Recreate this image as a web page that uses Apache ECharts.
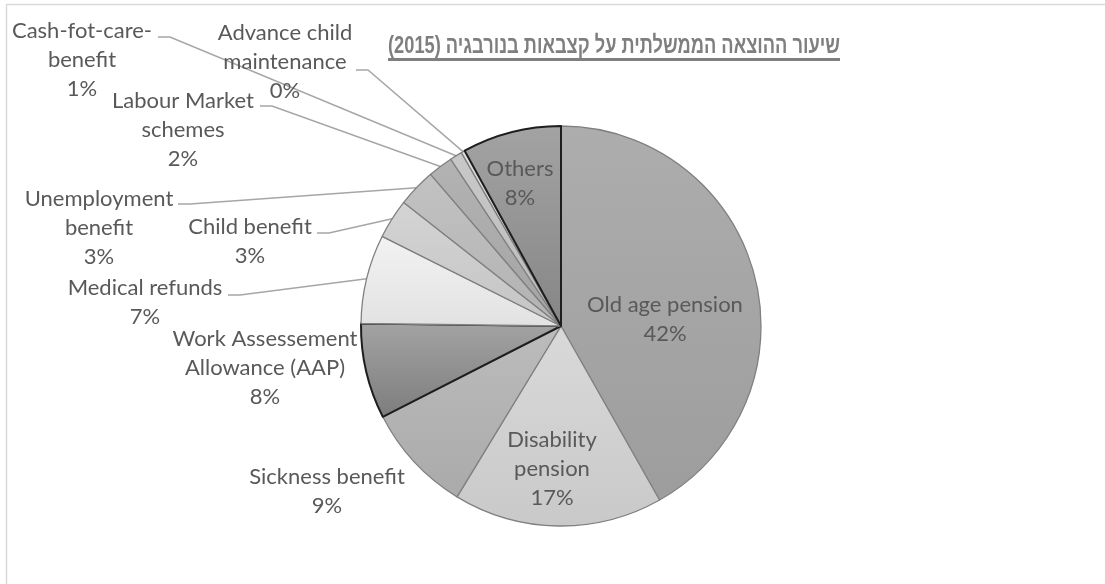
<!DOCTYPE html>
<html><head><meta charset="utf-8">
<script src="https://cdn.jsdelivr.net/npm/echarts@6/dist/echarts.min.js"></script>
<style>html,body{margin:0;padding:0;background:#fff}#c{width:1105px;height:584px}</style>
</head><body><div id="c"></div>
<script>
// ---- data ----
const categories = ['Old age pension', 'Disability pension', 'Sickness benefit', 'Work Assessement Allowance (AAP)', 'Medical refunds', 'Child benefit', 'Unemployment benefit', 'Labour Market schemes', 'Cash-fot-care-benefit', 'Advance child maintenance', 'Others'];
const shares = [41.8, 16.9, 8.8, 7.7, 7.2, 3.2, 3.1, 2.0, 1.0, 0.3, 8.0];
const titleText = 'שיעור ההוצאה הממשלתית על קצבאות בנורבגיה (2015)';

// ---- presentation ----
const wrapAt = {
  'Disability pension': ['Disability', 'pension'],
  'Work Assessement Allowance (AAP)': ['Work Assessement', 'Allowance (AAP)'],
  'Unemployment benefit': ['Unemployment', 'benefit'],
  'Labour Market schemes': ['Labour Market', 'schemes'],
  'Cash-fot-care-benefit': ['Cash-fot-care-', 'benefit'],
  'Advance child maintenance': ['Advance child', 'maintenance']
};
const sliceShades = [
  ['#adadad', '#9d9d9d'], ['#d9d9d9', '#c9c9c9'], ['#bcbcbc', '#aaaaaa'], ['#a3a3a3', '#7d7d7d'],
  ['#f2f2f2', '#e2e2e2'], ['#d4d4d4', '#c4c4c4'], ['#c2c2c2', '#b2b2b2'], ['#b3b3b3', '#a3a3a3'],
  ['#c8c8c8', '#bcbcbc'], ['#dedede', '#d0d0d0'], ['#a3a3a3', '#868686']
];
const darkEdge = [false, false, false, true, false, false, false, false, false, false, true];
const insideLabel = [true, true, false, false, false, false, false, false, false, false, true];
const showLeader = [false, false, false, false, true, true, true, true, true, true, false];
// [centerX, centerY, leaderAnchorX, leaderAnchorY]
const labelBoxes = [
  [665, 319], [552, 469], [327, 491], [265, 368],
  [145, 302, 228, 295], [250, 241, 317, 233], [99, 228, 178, 204], [183, 130, 260, 106],
  [82, 60, 158, 37], [285, 62, 356, 70], [520, 183]
];

const FONT = 'Lato';
const chart = echarts.init(document.getElementById('c'));

const titleFont = 'bold 24px "Liberation Sans", "DejaVu Sans", sans-serif';
const cvs = document.createElement('canvas').getContext('2d');
cvs.font = titleFont;
const titleStr = '\u202B' + titleText + '\u202C';
const tw = cvs.measureText(titleStr).width;
const titleLeft = 388, titleRight = 840;
const titleScale = (titleRight - titleLeft) / tw;

const data = categories.map((name, i) => ({
  name: name,
  value: shares[i],
  itemStyle: {
    color: new echarts.graphic.LinearGradient(0, 0, 0, 1, [
      { offset: 0, color: sliceShades[i][0] }, { offset: 1, color: sliceShades[i][1] }
    ]),
    borderColor: darkEdge[i] ? '#1e1e1e' : '#808080',
    borderWidth: darkEdge[i] ? 2 : 1.3
  },
  label: { position: insideLabel[i] ? 'inside' : 'outside' },
  labelLine: { show: showLeader[i] }
}));

chart.setOption({
  animation: false,
  graphic: [
    { type: 'rect', shape: { x: 6.5, y: 4.5, width: 1300, height: 800 }, style: { fill: 'none', stroke: '#d9d9d9', lineWidth: 1.5 }, silent: true },
    { type: 'text', x: titleLeft, y: 46, scaleX: titleScale, silent: true,
      style: { text: titleStr, font: titleFont, fill: '#7f7f7f', align: 'left', verticalAlign: 'middle' } },
    { type: 'rect', shape: { x: titleLeft, y: 58, width: titleRight - titleLeft, height: 3 }, style: { fill: '#7f7f7f' }, silent: true }
  ],
  series: [{
    type: 'pie',
    center: [561, 326],
    radius: 200,
    startAngle: 90,
    clockwise: true,
    avoidLabelOverlap: false,
    percentPrecision: 0,
    data: data,
    label: {
      show: true,
      fontFamily: FONT,
      fontSize: 22,
      lineHeight: 29,
      color: '#595959',
      align: 'center',
      formatter: p => (wrapAt[p.name] || [p.name]).join('\n') + '\n' + p.percent + '%'
    },
    labelLine: { lineStyle: { color: '#a6a6a6', width: 1.5 }, length: 10, length2: 10 },
    labelLayout: function (p) {
      const b = labelBoxes[p.dataIndex];
      const out = { x: b[0], y: b[1], align: 'center', verticalAlign: 'middle' };
      if (b.length > 2 && p.labelLinePoints) {
        const s = p.labelLinePoints[0];
        out.labelLinePoints = [[s[0], s[1]], [b[2] + 12, b[3]], [b[2], b[3]]];
      }
      return out;
    },
    emphasis: { disabled: true }
  }]
});
</script></body></html>
